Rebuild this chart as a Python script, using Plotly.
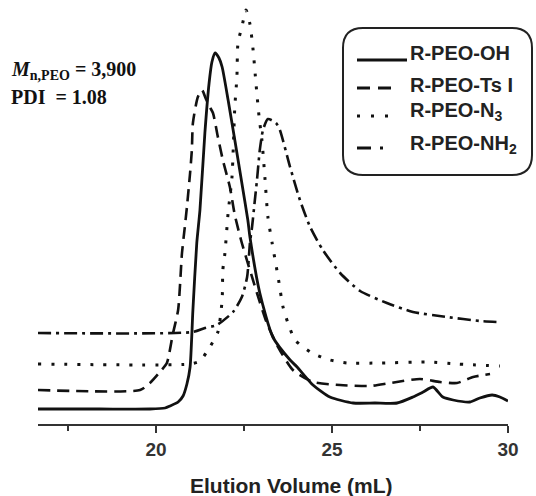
import plotly.graph_objects as go

# ---------------- data (elution volume in mL, detector signal in arbitrary units) -------------
oh_x = [16.65, 18.4, 19.83, 20.26, 20.40, 20.63, 20.77, 20.88, 20.97, 21.05, 21.16, 21.25, 21.39,
        21.51, 21.59, 21.68, 21.79, 21.88, 22.05, 22.24, 22.44, 22.61, 22.67, 22.95, 23.32, 23.81,
        24.01, 24.46, 24.94, 25.60, 26.22, 26.85, 27.30, 27.59, 27.87, 28.15, 28.44, 28.92, 29.20,
        29.55, 29.77, 30.0]
oh_y = [15, 15, 15, 16, 18, 22, 28, 40, 57, 114, 181, 214, 291,
        341, 362, 371, 366, 357, 324, 284, 241, 204, 187, 131, 87, 64,
        57, 39, 27, 21, 21, 21, 27, 32, 37, 27, 24, 22, 26,
        29, 27, 23]

tsi_x = [16.65, 19.55, 19.83, 20.11, 20.31, 20.48, 20.63, 20.74, 20.82, 20.88, 20.97, 21.02, 21.05,
         21.19, 21.31, 21.42, 21.53, 21.62, 21.76, 21.90, 22.10, 22.24, 22.44, 22.87, 23.15, 23.47,
         23.89, 24.46, 25.23, 26.08, 26.65, 27.50, 28.07, 28.55, 29.01, 29.49]
tsi_y = [34, 34, 41, 52, 61, 90, 114, 171, 197, 217, 251, 274, 301,
         327, 334, 325, 317, 311, 287, 264, 237, 209, 181, 131, 101, 77,
         54, 42, 39, 38, 41, 45, 42, 41, 47, 50]

n3_x = [16.65, 20.97, 21.25, 21.53, 21.76, 21.88, 21.90, 21.96, 22.05, 22.16, 22.24, 22.30, 22.33,
        22.44, 22.56, 22.67, 22.76, 22.84, 22.93, 23.01, 23.10, 23.18, 23.30, 23.47, 23.61, 23.75,
        23.95, 24.43, 24.94, 25.43, 26.36, 27.70, 28.55, 29.77]
n3_y = [60, 60, 63, 77, 92, 124, 154, 171, 211, 247, 317, 347, 381,
        397, 414, 400, 374, 341, 307, 284, 244, 207, 181, 147, 117, 101,
        84, 71, 64, 61, 61, 62, 60, 58]

nh2_x = [16.65, 21.05, 21.39, 21.73, 22.19, 22.44, 22.59, 22.67, 22.73, 22.81, 22.87, 22.95, 23.04,
         23.18, 23.41, 23.52, 23.81, 24.09, 24.38, 24.74, 25.23, 25.80, 26.56, 27.30, 28.27, 29.20,
         29.72]
nh2_y = [91, 92, 96, 99, 112, 127, 147, 181, 197, 224, 244, 274, 294,
         305, 301, 294, 257, 224, 197, 174, 151, 133, 121, 112, 107, 103,
         102]

series_names = ["R-PEO-OH", "R-PEO-TsI", "R-PEO-N3", "R-PEO-NH2"]
legend_labels = ["R-PEO-OH", "R-PEO-Ts I", "R-PEO-N<sub>3</sub>", "R-PEO-NH<sub>2</sub>"]
x_ticks = [20, 25, 30]
x_minor_ticks = [17.5, 22.5, 27.5]
x_title = "Elution Volume (mL)"
note_lines = ["<b><i>M</i><sub>n,PEO</sub> = 3,900</b>", "<b>PDI&nbsp; = 1.08</b>"]

# ---------------- layout constants ----------------
W, H = 536, 496
ML, MR, MT, MB = 38, 28, 0, 72
PW, PH = W - ML - MR, H - MT - MB
X_RANGE = [16.65, 30]
Y_RANGE = [0, PH]
INK = "#111111"

def px(x):
    return (x - ML) / PW

def py(y):
    return (H - MB - y) / PH

styles = [
    dict(width=2.8, dash="solid"),
    dict(width=2.6, dash="12px,7px"),
    dict(width=3, dash="3px,10px"),
    dict(width=2.6, dash="13px,5px,3px,5px"),
]
sample_dash = ["solid", "13px,8px", "3px,11px", "14px,9px,3px,20px"]

fig = go.Figure()
for name, xs, ys, st in zip(series_names, [oh_x, tsi_x, n3_x, nh2_x],
                            [oh_y, tsi_y, n3_y, nh2_y], styles):
    fig.add_trace(go.Scatter(x=xs, y=ys, mode="lines", name=name, showlegend=False,
                             line=dict(color=INK, width=st["width"], dash=st["dash"],
                                       shape="spline", smoothing=0.6)))

# ---------------- legend box (rounded) ----------------
bx0, bx1, by0, by1, r = 343, 532, 28, 175, 20
path = (f"M {px(bx0 + r)} {py(by0)} L {px(bx1 - r)} {py(by0)} "
        f"Q {px(bx1)} {py(by0)} {px(bx1)} {py(by0 + r)} L {px(bx1)} {py(by1 - r)} "
        f"Q {px(bx1)} {py(by1)} {px(bx1 - r)} {py(by1)} L {px(bx0 + r)} {py(by1)} "
        f"Q {px(bx0)} {py(by1)} {px(bx0)} {py(by1 - r)} L {px(bx0)} {py(by0 + r)} "
        f"Q {px(bx0)} {py(by0)} {px(bx0 + r)} {py(by0)} Z")
shapes = [dict(type="path", xref="paper", yref="paper", path=path,
               line=dict(color="#222222", width=2), fillcolor="rgba(0,0,0,0)")]

sample_y = [60, 88, 116, 148]
text_y = [53, 85, 111, 144]
sample_x = [(357, 407), (357, 398), (357, 392), (357, 386)]
for (sx0, sx1), sy, d in zip(sample_x, sample_y, sample_dash):
    shapes.append(dict(type="line", xref="paper", yref="paper",
                       x0=px(sx0), x1=px(sx1), y0=py(sy), y1=py(sy),
                       line=dict(color=INK, width=3, dash=d)))

annotations = []
for lab, ty in zip(legend_labels, text_y):
    annotations.append(dict(xref="paper", yref="paper", x=px(408), y=py(ty), text=lab,
                            showarrow=False, xanchor="left", yanchor="middle",
                            font=dict(family="Liberation Sans", size=20, color="#222222",
                                      weight="bold")))

for line, ty in zip(note_lines, [70, 97]):
    annotations.append(dict(xref="paper", yref="paper", x=px(9), y=py(ty), text=line,
                            showarrow=False, xanchor="left", yanchor="middle",
                            font=dict(family="Liberation Serif", size=20, color="#111111")))

annotations.append(dict(xref="paper", yref="paper", x=px(291), y=py(485), text=x_title,
                        showarrow=False, xanchor="center", yanchor="middle",
                        font=dict(family="Liberation Sans", size=21, color="#222222",
                                  weight="bold")))

fig.update_layout(
    width=W, height=H,
    margin=dict(l=ML, r=MR, t=MT, b=MB, pad=0),
    paper_bgcolor="white", plot_bgcolor="white",
    shapes=shapes, annotations=annotations,
    xaxis=dict(range=X_RANGE, tickmode="array", tickvals=x_ticks,
               ticktext=[str(t) for t in x_ticks],
               showline=True, linecolor="#333333", linewidth=1.6,
               ticks="outside", ticklen=7, tickwidth=1.6, tickcolor="#333333",
               minor=dict(tickmode="array", tickvals=x_minor_ticks, ticks="outside",
                          ticklen=5, tickwidth=1.6, tickcolor="#333333", showgrid=False),
               showgrid=False, zeroline=False, ticklabelstandoff=0,
               tickfont=dict(family="Liberation Sans", size=19, color="#333333", weight="bold")),
    yaxis=dict(range=Y_RANGE, visible=False, showgrid=False, zeroline=False),
)

fig.write_html("out.html", config={"displayModeBar": False},
               post_script="document.body.style.margin='0';document.body.style.overflow='hidden';")
